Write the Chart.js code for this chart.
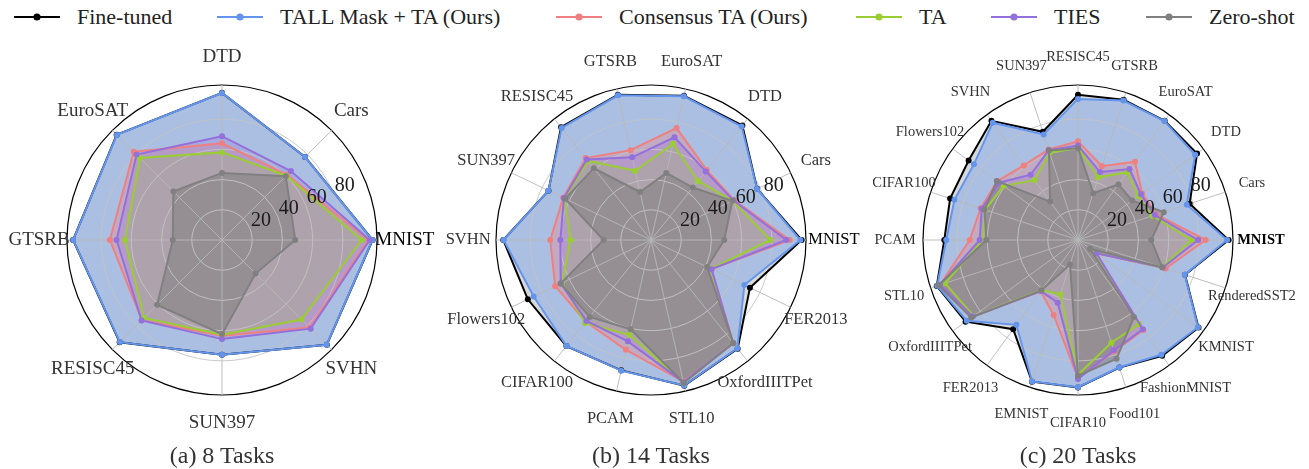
<!DOCTYPE html>
<html>
<head>
<meta charset="utf-8">
<script src="https://cdn.jsdelivr.net/npm/chart.js@4.4.1/dist/chart.umd.min.js"></script>
<style>
  body { margin: 0; width: 1309px; height: 469px; background: #fff; position: relative; overflow: hidden;
         font-family: "Liberation Serif", serif; color: #222; }
  .box { position: absolute; top: 0; width: 436px; height: 469px; }
  .cap { position: absolute; top: 441px; width: 300px; margin-left: -150px; text-align: center;
         font-size: 24px; line-height: 28px; color: #333; }
  .leg { position: absolute; top: 3px; height: 28px; font-size: 22px; line-height: 28px; white-space: nowrap; color: #222; }
  .leg svg { position: absolute; left: 0; top: 0; }
  .leg span { position: absolute; left: 63px; top: 0; }
</style>
</head>
<body>
<div id="legend"></div>
<div class="box" style="left:0px"><canvas id="c8" width="436" height="469"></canvas></div>
<div class="box" style="left:436px"><canvas id="c14" width="436" height="469"></canvas></div>
<div class="box" style="left:873px"><canvas id="c20" width="436" height="469"></canvas></div>
<div class="cap" style="left:222px">(a) 8 Tasks</div>
<div class="cap" style="left:651px">(b) 14 Tasks</div>
<div class="cap" style="left:1078px">(c) 20 Tasks</div>
<script>
// methods, in plotting order (later ones sit on top)
var methods = ['Fine-tuned', 'TALL Mask + TA (Ours)', 'Consensus TA (Ours)', 'TA', 'TIES', 'Zero-shot'];
var lineColors = ['#000000', '#6495ED', '#F08080', '#9ACD32', '#9370DB', '#808080'];
var fillColors = ['rgba(0,0,0,0.15)', 'rgba(100,149,237,0.4)', 'rgba(240,128,128,0.32)',
                  'rgba(154,205,50,0.26)', 'rgba(147,112,219,0.25)', 'rgba(128,128,128,0.55)'];
var legendX = [14, 217, 556, 856, 991, 1146];

// radial axis
var gridValues = [20, 40, 60, 80];
var rMax = 102.6;

// (a) 8 tasks
var tasks8 = ['MNIST', 'Cars', 'DTD', 'EuroSAT', 'GTSRB', 'RESISC45', 'SUN397', 'SVHN'];
var fineTuned8 = [99.7, 77.8, 97.4, 98.6, 98.6, 95.8, 75.9, 98.1];
var tall8      = [99.6, 77.7, 97.3, 98.4, 98.5, 95.6, 75.9, 98.0];
var consensus8 = [96.9, 61.0, 64.0, 82.6, 74.2, 75.0, 63.4, 82.0];
var ta8        = [92.5, 60.2, 58.0, 76.8, 64.2, 73.0, 62.7, 74.4];
var ties8      = [97.8, 64.5, 68.7, 80.0, 69.8, 75.3, 65.6, 83.0];
var zeroShot8  = [48.5, 59.7, 44.4, 45.5, 32.6, 60.7, 62.3, 31.4];

// (b) 14 tasks
var tasks14 = ['MNIST', 'Cars', 'DTD', 'EuroSAT', 'GTSRB', 'RESISC45', 'SUN397', 'SVHN',
               'Flowers102', 'CIFAR100', 'PCAM', 'STL10', 'OxfordIIITPet', 'FER2013'];
var fineTuned14 = [99.7, 78.0, 97.0, 98.0, 98.6, 95.5, 75.3, 97.8, 90.5, 89.8, 88.5, 98.9, 92.0, 72.7];
var tall14      = [98.9, 77.9, 96.2, 97.6, 98.2, 94.9, 75.3, 97.6, 86.2, 89.7, 88.7, 98.8, 91.7, 68.6];
var consensus14 = [91.8, 61.0, 59.2, 76.0, 61.0, 69.4, 64.5, 66.7, 70.4, 69.2, 74.6, 96.0, 87.5, 44.5];
var ta14        = [79.0, 59.8, 50.0, 65.3, 47.0, 66.9, 63.5, 53.2, 65.5, 70.2, 64.4, 96.8, 86.8, 44.0];
var ties14      = [89.6, 60.5, 58.1, 69.7, 56.1, 68.2, 64.0, 60.0, 66.3, 68.5, 68.8, 96.5, 87.0, 44.5];
var zeroShot14  = [48.5, 59.7, 44.4, 45.5, 32.6, 60.7, 63.0, 31.4, 66.4, 65.1, 60.6, 97.1, 87.4, 41.2];

// (c) 20 tasks
var tasks20 = ['MNIST', 'Cars', 'DTD', 'EuroSAT', 'GTSRB', 'RESISC45', 'SUN397', 'SVHN',
               'Flowers102', 'CIFAR100', 'PCAM', 'STL10', 'OxfordIIITPet', 'FER2013',
               'EMNIST', 'CIFAR10', 'Food101', 'FashionMNIST', 'KMNIST', 'RenderedSST2'];
var fineTuned20 = [99.7, 77.7, 97.4, 97.6, 97.6, 96.1, 75.3, 97.5, 89.5, 89.0, 88.5, 98.3, 92.0, 73.0,
                   98.6, 97.6, 88.8, 94.8, 98.6, 74.5];
var tall20      = [98.7, 75.7, 95.9, 97.3, 97.1, 93.4, 73.5, 96.0, 85.2, 86.0, 87.2, 98.0, 91.0, 69.4,
                   98.4, 97.4, 88.6, 93.9, 98.2, 74.3];
var consensus20 = [84.5, 54.5, 52.5, 64.1, 51.3, 65.3, 63.0, 61.0, 66.2, 67.8, 71.7, 96.0, 86.0, 42.0,
                   52.2, 91.4, 77.6, 73.7, 14.9, 61.0];
var ta20        = [75.1, 51.7, 49.5, 55.5, 43.6, 61.0, 60.8, 49.0, 61.0, 64.7, 63.0, 92.6, 85.5, 41.0,
                   37.9, 89.2, 71.5, 68.8, 14.0, 58.5];
var ties20      = [79.5, 53.5, 51.5, 58.1, 47.3, 62.5, 62.5, 53.4, 64.5, 67.0, 65.1, 96.0, 86.0, 41.8,
                   43.6, 92.0, 76.8, 73.0, 15.0, 59.0];
var zeroShot20  = [48.5, 59.7, 44.4, 45.5, 32.6, 60.7, 62.3, 31.4, 66.4, 65.1, 60.6, 97.1, 87.4, 41.2,
                   17.1, 89.8, 82.6, 63.0, 9.8, 58.6];

// legend
var leg = document.getElementById('legend');
methods.forEach(function (m, i) {
  var d = document.createElement('div');
  d.className = 'leg';
  d.style.left = legendX[i] + 'px';
  d.innerHTML = '<svg width="48" height="28"><line x1="0" y1="14" x2="46" y2="14" stroke="' + lineColors[i] +
    '" stroke-width="2"/><circle cx="23" cy="14" r="3.6" fill="' + lineColors[i] + '"/></svg><span>' + m + '</span>';
  leg.appendChild(d);
});

// task labels + radial tick labels, placed like matplotlib's polar axes
var labelPlugin = {
  id: 'polarText',
  afterDraw: function (chart) {
    var s = chart.scales.r, ctx = chart.ctx, o = chart.options.plugins.polarText;
    ctx.save();
    ctx.textAlign = 'center';
    ctx.textBaseline = 'middle';
    chart.data.labels.forEach(function (lab, i) {
      var p = s.getPointPosition(i, s.drawingArea * 1.18);
      var first = lab === 'MNIST';
      ctx.font = (first && o.bold ? 'bold ' : '') + o.size + 'px "Liberation Serif"';
      ctx.fillStyle = first ? '#000' : '#333';
      ctx.fillText(lab, p.x, p.y);
    });
    ctx.font = '20px "Liberation Serif"';
    ctx.fillStyle = '#1a1a1a';
    ctx.textAlign = 'left';
    ctx.textBaseline = 'bottom';
    var a = 22.5 * Math.PI / 180;
    gridValues.forEach(function (v) {
      var d = s.getDistanceFromCenterForValue(v);
      ctx.fillText(String(v), s.xCenter + Math.cos(a) * d + 1, s.yCenter - Math.sin(a) * d + 2);
    });
    ctx.restore();
  }
};

function makePanel(id, tasks, series, padLeft, labelSize, bold) {
  // matplotlib runs counter-clockwise from the east; Chart.js runs clockwise
  var idx = [0];
  for (var k = tasks.length - 1; k >= 1; k--) idx.push(k);
  var datasets = series.map(function (vals, i) {
    return {
      label: methods[i],
      data: idx.map(function (j) { return vals[j]; }),
      borderColor: lineColors[i],
      backgroundColor: fillColors[i],
      pointBackgroundColor: lineColors[i],
      fill: true,
      order: series.length - i
    };
  });
  new Chart(document.getElementById(id), {
    type: 'radar',
    data: { labels: idx.map(function (j) { return tasks[j]; }), datasets: datasets },
    options: {
      responsive: false,
      animation: false,
      layout: { padding: { left: padLeft, right: 436 - 310 - padLeft, top: 85, bottom: 74 } },
      elements: {
        line: { borderWidth: 2, tension: 0 },
        point: { radius: 3, borderWidth: 0, hoverRadius: 3 }
      },
      plugins: {
        legend: { display: false },
        tooltip: { enabled: false },
        filler: { propagate: false, drawTime: 'beforeDraw' },
        polarText: { size: labelSize, bold: bold }
      },
      scales: {
        r: {
          min: 0,
          max: rMax,
          startAngle: 90,
          afterBuildTicks: function (scale) {
            scale.ticks = [0].concat(gridValues, [rMax]).map(function (v) { return { value: v }; });
          },
          ticks: { display: false },
          pointLabels: { display: false },
          grid: {
            circular: true,
            color: function (c) { return c.tick && c.tick.value === rMax ? '#000' : '#c4c4c4'; },
            lineWidth: function (c) { return c.tick && c.tick.value === rMax ? 1.2 : 0.9; }
          },
          angleLines: { color: '#b8b8b8', lineWidth: 0.9 }
        }
      }
    },
    plugins: [labelPlugin]
  });
}

makePanel('c8', tasks8, [fineTuned8, tall8, consensus8, ta8, ties8, zeroShot8], 67, 19, false);
makePanel('c14', tasks14, [fineTuned14, tall14, consensus14, ta14, ties14, zeroShot14], 60, 16.5, false);
makePanel('c20', tasks20, [fineTuned20, tall20, consensus20, ta20, ties20, zeroShot20], 50, 14.5, true);
</script>
</body>
</html>
